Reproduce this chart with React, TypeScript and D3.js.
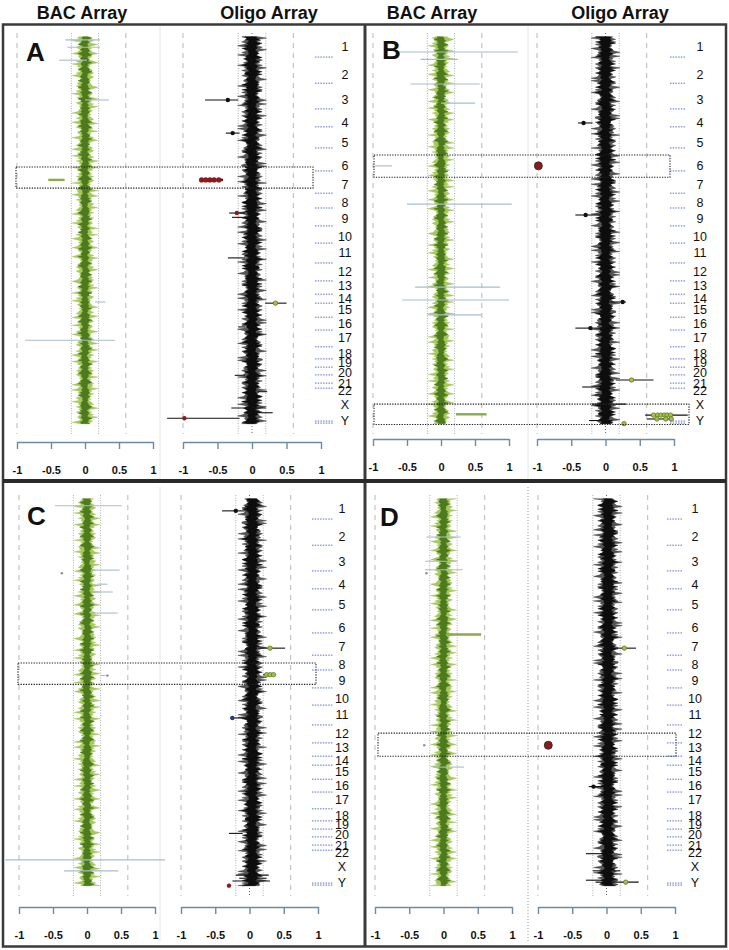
import React, { useEffect, useRef } from "react";
import * as d3 from "d3";

const W = 729;
const H = 950;
const FONT = "'Liberation Sans', Arial, Helvetica, sans-serif";

// ---------- data ----------
const HEADERS = ["BAC Array", "Oligo Array", "BAC Array", "Oligo Array"];
const PANEL_LETTERS = ["A", "B", "C", "D"];
const CHROMS = ["1", "2", "3", "4", "5", "6", "7", "8", "9", "10", "11", "12", "13", "14", "15", "16", "17", "18", "19", "20", "21", "22", "X", "Y"];
// label positions along genome (0-100 index units)
const CHROM_LABEL_POS = [2.6, 9.9, 16.2, 22.1, 27.4, 33.1, 38.2, 42.6, 46.9, 51.5, 55.6, 60.3, 64.1, 67.2, 70.0, 73.8, 77.4, 81.3, 83.8, 86.4, 89.0, 91.0, 94.4, 98.5];
// chromosome boundaries (dotted blue ticks)
const CHROM_BOUNDS = [5.4, 12.1, 18.7, 23.3, 28.7, 34.6, 40.3, 44.1, 48.7, 53.1, 58.2, 62.8, 66.2, 68.5, 72.1, 75.4, 79.7, 82.8, 84.9, 86.9, 89.0, 90.3];
const Y_BOUND = 99.0;
const AXIS_TICKS = [-1, -0.5, 0, 0.5, 1];
const GUIDE_DASHED = [-1, 0.6];
const GUIDE_DOTTED = [-0.2, 0.2];

// hand-read spread of the probe log2 ratios along the genome, coded 0-9
const BAC_NOISE = [
  "4729150386", "1579364028", "3957026184", "9612037485", "6183952740",
  "2861403579", "0438259716", "8205741693", "5046827931", "7394618250",
  "3957026184", "4729150386", "7394618250", "5046827931", "6183952740",
  "0438259716", "1579364028", "9612037485", "2861403579", "8205741693",
  "6183952740", "5046827931", "4729150386", "9612037485", "0438259716",
  "3957026184", "2861403579", "1579364028", "7394618250", "8205741693",
].join("");
const OLIGO_NOISE = [
  "5046827931", "6183952740", "7394618250", "8205741693", "0438259716",
  "4729150386", "2861403579", "3957026184", "9612037485", "1579364028",
  "8205741693", "7394618250", "4729150386", "0438259716", "5046827931",
  "3957026184", "9612037485", "6183952740", "1579364028", "2861403579",
  "7394618250", "3957026184", "0438259716", "5046827931", "8205741693",
  "9612037485", "4729150386", "2861403579", "6183952740", "1579364028",
].join("");
const BAC_AMP = [0.05, 0.06, 0.07, 0.078, 0.085, 0.092, 0.1, 0.112, 0.13, 0.19];
const OLIGO_AMP = [0.06, 0.07, 0.08, 0.088, 0.095, 0.102, 0.11, 0.125, 0.15, 0.21];
const NOISE_OFFSETS = [0, 37, 81, 123];
const OLIGO_CENTERS = [0.0, 0.0, 0.04, 0.02];

// outlier segments: u = genome index, lo/hi = log2 ratio, dots = points, dc = dot colour, s = line style
const A_BAC_MARKS = [
  { u: 1.0, lo: -0.29, hi: 0.22, s: "gray" },
  { u: 2.9, lo: -0.26, hi: 0.22, s: "gray" },
  { u: 6.2, lo: -0.38, hi: 0.03, s: "gray" },
  { u: 16.4, lo: 0.0, hi: 0.35, s: "gray" },
  { u: 36.9, lo: -0.54, hi: -0.3, s: "green" },
  { u: 68.2, lo: 0.15, hi: 0.3, s: "gray" },
  { u: 78.0, lo: -0.88, hi: 0.44, s: "gray" },
];
const A_OLIGO_MARKS = [
  { u: 16.4, lo: -0.68, hi: -0.2, dots: [-0.35], dc: "black", s: "black" },
  { u: 24.9, lo: -0.38, hi: -0.18, dots: [-0.28], dc: "black", s: "black" },
  { u: 36.9, lo: -0.76, hi: -0.42, dots: [-0.73, -0.67, -0.61, -0.55, -0.48], dc: "red", s: "darkred" },
  { u: 45.4, lo: -0.33, hi: -0.1, dots: [-0.22], dc: "red", s: "black" },
  { u: 46.5, lo: -0.29, hi: -0.1, s: "black" },
  { u: 56.9, lo: -0.35, hi: -0.1, s: "black" },
  { u: 68.5, lo: 0.19, hi: 0.5, dots: [0.34], dc: "green", s: "black" },
  { u: 74.6, lo: -0.2, hi: -0.1, s: "black" },
  { u: 87.0, lo: -0.25, hi: -0.1, s: "black" },
  { u: 91.2, lo: 0.08, hi: 0.22, s: "black" },
  { u: 95.4, lo: -0.3, hi: 0.2, s: "black" },
  { u: 96.6, lo: -0.12, hi: 0.3, s: "black" },
  { u: 98.0, lo: -1.23, hi: -0.18, dots: [-0.98], dc: "red", s: "black" },
];
const B_BAC_MARKS = [
  { u: 4.1, lo: -0.63, hi: 1.13, s: "gray" },
  { u: 6.0, lo: -0.3, hi: 0.25, s: "gray" },
  { u: 12.3, lo: -0.45, hi: 0.57, s: "gray" },
  { u: 17.2, lo: 0.0, hi: 0.5, s: "gray" },
  { u: 33.3, lo: -0.97, hi: -0.72, s: "gray" },
  { u: 43.1, lo: -0.5, hi: 1.04, s: "gray" },
  { u: 64.4, lo: -0.38, hi: 0.87, s: "gray" },
  { u: 67.7, lo: -0.57, hi: 1.0, s: "gray" },
  { u: 71.5, lo: -0.2, hi: 0.6, s: "gray" },
  { u: 97.0, lo: 0.22, hi: 0.67, s: "green" },
];
const B_OLIGO_MARKS = [
  { u: 22.3, lo: -0.4, hi: -0.19, dots: [-0.32], dc: "black", s: "black" },
  { u: 33.3, lo: -0.99, hi: -0.97, dots: [-0.98], dc: "bigred", s: "black" },
  { u: 45.9, lo: -0.44, hi: -0.04, dots: [-0.29], dc: "black", s: "black" },
  { u: 68.2, lo: 0.05, hi: 0.3, dots: [0.25], dc: "black", s: "black" },
  { u: 74.9, lo: -0.44, hi: 0.0, dots: [-0.22], dc: "black", s: "black" },
  { u: 88.2, lo: 0.15, hi: 0.7, dots: [0.38], dc: "green", s: "black" },
  { u: 90.0, lo: -0.34, hi: -0.1, s: "black" },
  { u: 92.0, lo: -0.15, hi: 0.05, s: "black" },
  { u: 94.4, lo: -0.2, hi: 0.3, s: "black" },
  { u: 97.2, lo: 0.58, hi: 1.2, dots: [0.7, 0.76, 0.81, 0.86, 0.9, 0.95], dc: "green", s: "black" },
  { u: 98.2, lo: 0.6, hi: 0.98, dots: [0.75, 0.88, 0.96], dc: "green", s: "black" },
  { u: 98.6, lo: -0.24, hi: 0.1, s: "black" },
  { u: 99.4, lo: 0.27, hi: 0.27, dots: [0.27], dc: "green", s: "black" },
];
const C_BAC_MARKS = [
  { u: 2.0, lo: -0.47, hi: 0.51, s: "gray" },
  { u: 18.5, lo: 0.09, hi: 0.48, s: "gray" },
  { u: 19.3, lo: -0.37, hi: -0.36, dots: [-0.37], dc: "gray", s: "gray" },
  { u: 22.1, lo: 0.15, hi: 0.3, s: "gray" },
  { u: 24.1, lo: 0.1, hi: 0.38, s: "gray" },
  { u: 29.5, lo: 0.05, hi: 0.45, s: "gray" },
  { u: 45.5, lo: 0.2, hi: 0.27, dots: [0.3], dc: "gray", s: "gray" },
  { u: 92.8, lo: -1.2, hi: 1.15, s: "gray" },
  { u: 95.6, lo: -0.34, hi: 0.46, s: "gray" },
];
const C_OLIGO_MARKS = [
  { u: 3.3, lo: -0.4, hi: -0.02, dots: [-0.2], dc: "black", s: "black" },
  { u: 38.5, lo: 0.13, hi: 0.52, dots: [0.3], dc: "green", s: "black" },
  { u: 45.3, lo: 0.2, hi: 0.38, dots: [0.25, 0.3, 0.35], dc: "green", s: "black" },
  { u: 56.4, lo: -0.28, hi: 0.0, dots: [-0.25], dc: "blue", s: "black" },
  { u: 86.0, lo: -0.3, hi: -0.1, s: "black" },
  { u: 96.7, lo: -0.2, hi: 0.28, s: "black" },
  { u: 97.5, lo: -0.15, hi: 0.25, s: "black" },
  { u: 98.2, lo: -0.25, hi: 0.3, s: "black" },
  { u: 99.4, lo: -0.3, hi: -0.3, dots: [-0.3], dc: "red", s: "black" },
];
const D_BAC_MARKS = [
  { u: 10.0, lo: -0.25, hi: 0.25, s: "gray" },
  { u: 16.2, lo: -0.27, hi: 0.2, s: "gray" },
  { u: 18.4, lo: -0.27, hi: 0.28, s: "gray" },
  { u: 19.3, lo: -0.25, hi: -0.24, dots: [-0.25], dc: "gray", s: "gray" },
  { u: 35.0, lo: 0.05, hi: 0.55, s: "green" },
  { u: 63.4, lo: -0.3, hi: -0.27, dots: [-0.28], dc: "gray", s: "gray" },
  { u: 69.0, lo: -0.15, hi: 0.3, s: "gray" },
];
const D_OLIGO_MARKS = [
  { u: 38.5, lo: 0.15, hi: 0.43, dots: [0.26], dc: "green", s: "black" },
  { u: 63.4, lo: -0.86, hi: -0.84, dots: [-0.85], dc: "bigred", s: "black" },
  { u: 55.5, lo: -0.1, hi: 0.15, s: "black" },
  { u: 74.0, lo: -0.26, hi: 0.0, dots: [-0.19], dc: "black", s: "black" },
  { u: 91.2, lo: -0.3, hi: 0.0, s: "black" },
  { u: 95.6, lo: -0.2, hi: 0.2, s: "black" },
  { u: 98.0, lo: -0.3, hi: 0.1, s: "black" },
  { u: 98.5, lo: -0.16, hi: 0.47, dots: [0.28], dc: "green", s: "black" },
];
const BAC_MARKS = [A_BAC_MARKS, B_BAC_MARKS, C_BAC_MARKS, D_BAC_MARKS];
const OLIGO_MARKS = [A_OLIGO_MARKS, B_OLIGO_MARKS, C_OLIGO_MARKS, D_OLIGO_MARKS];
// highlighted regions (genome index ranges)
const A_BOXES = [[33.6, 39.0]];
const B_BOXES = [[30.5, 36.2], [94.4, 99.6]];
const C_BOXES = [[42.3, 47.8]];
const D_BOXES = [[60.3, 66.2]];
const BOXES = [A_BOXES, B_BOXES, C_BOXES, D_BOXES];

// ---------- layout ----------
const PANELS = [
  { top: 36, bac: [17, 153], oligo: [183, 321], labelX: 345, tick: [315, 333], letter: [26, 61], boxX: [[16, 313]], axisY: 442, divider: 160, dividerDotted: false },
  { top: 36, bac: [373, 509], oligo: [537, 674], labelX: 700, tick: [670, 685], letter: [382, 59], boxX: [[374, 670], [374, 689]], axisY: 439, divider: 528, dividerDotted: false },
  { top: 498, bac: [19, 155], oligo: [181, 318], labelX: 342, tick: [312, 333], letter: [27, 525], boxX: [[18, 316]], axisY: 907, divider: 160, dividerDotted: false },
  { top: 498, bac: [375, 512], oligo: [538, 675], labelX: 695, tick: [667, 682], letter: [380, 526], boxX: [[378, 676]], axisY: 907, divider: 528, dividerDotted: true },
];
const HEADER_X = [82, 269, 432, 620];
const SPAN = 390;
const AXIS_COLOR = "#6d8aa3";

// jagged band: left edge from one reading of the spread, right edge from another
function bandPath(noise: string, amp: number[], offset: number, x: any, y: any, gain: number, center: number) {
  const n = noise.length;
  const idx = d3.range(n);
  const area = d3
    .area<number>()
    .y((i) => y(0.2 + (99.2 * i) / (n - 1)))
    .x0((i) => x(center - amp[+noise[(i + offset) % n]] * gain))
    .x1((i) => x(center + amp[+noise[(i + offset + 150) % n]] * gain));
  return area(idx) || "";
}

function Axis({ scale, y }: { scale: any; y: number }) {
  const ref = useRef<SVGGElement>(null);
  useEffect(() => {
    if (!ref.current) return;
    const g = d3.select(ref.current);
    g.call(
      d3
        .axisBottom(scale)
        .tickValues(AXIS_TICKS)
        .tickSize(7)
        .tickSizeOuter(0)
        .tickPadding(17)
        .tickFormat((d: any) => String(d)) as any
    );
    g.select(".domain").attr("stroke", AXIS_COLOR).attr("stroke-width", 1.4);
    g.selectAll(".tick line").attr("stroke", AXIS_COLOR).attr("stroke-width", 1.4);
    g.selectAll(".tick text")
      .attr("font-size", 11)
      .attr("font-weight", "bold")
      .attr("font-family", FONT)
      .attr("fill", "#111");
  }, [scale, y]);
  return <g ref={ref} transform={`translate(0,${y})`} />;
}

const LINE_COLORS: Record<string, string> = {
  gray: "#a8bccb",
  green: "#8aab4a",
  black: "#111",
  darkred: "#4a0e0e",
};
const DOT_FILL: Record<string, string> = {
  black: "#111",
  red: "#8e1b1b",
  bigred: "#8e1b1b",
  green: "#a6c04a",
  blue: "#2a3585",
  gray: "#8a93a8",
};

function Marks({ marks, x, y }: { marks: any[]; x: any; y: any }) {
  return (
    <g>
      {marks.map((m, i) => (
        <g key={i}>
          <line
            x1={x(m.lo)}
            x2={x(m.hi)}
            y1={y(m.u)}
            y2={y(m.u)}
            stroke={LINE_COLORS[m.s]}
            strokeWidth={m.s === "green" || m.s === "darkred" ? 2.4 : 1.1}
          />
          {(m.dots || []).map((v: number, j: number) => (
            <circle
              key={j}
              cx={x(v)}
              cy={y(m.u)}
              r={m.dc === "bigred" ? 4 : m.dc === "red" && m.dots.length > 1 ? 2.6 : m.dc === "gray" ? 1.3 : 2.2}
              fill={DOT_FILL[m.dc]}
              stroke={m.dc === "green" ? "#5d7a22" : m.dc === "bigred" ? "#222" : "none"}
              strokeWidth={0.8}
            />
          ))}
        </g>
      ))}
    </g>
  );
}

function Guides({ x, y0, y1, zero }: { x: any; y0: number; y1: number; zero: boolean }) {
  return (
    <g>
      {GUIDE_DASHED.map((v) => (
        <line key={"d" + v} x1={x(v)} x2={x(v)} y1={y0} y2={y1} stroke="#c4c4c4" strokeWidth={1.2} strokeDasharray="5,5" />
      ))}
      {GUIDE_DOTTED.map((v) => (
        <line key={"o" + v} x1={x(v)} x2={x(v)} y1={y0} y2={y1} stroke="#9a9a9a" strokeWidth={0.8} strokeDasharray="1,1.5" />
      ))}
      {zero && <line x1={x(0)} x2={x(0)} y1={y0} y2={y1} stroke="#444" strokeWidth={0.8} strokeDasharray="1,2" />}
    </g>
  );
}

function Panel({ idx }: { idx: number }) {
  const p = PANELS[idx];
  const y = d3.scaleLinear().domain([0, 100]).range([p.top, p.top + SPAN]);
  const xb = d3.scaleLinear().domain([-1, 1]).range(p.bac as [number, number]);
  const xo = d3.scaleLinear().domain([-1, 1]).range(p.oligo as [number, number]);
  const gy0 = y(0) - 3;
  const gy1 = y(100) + 8;
  const off = NOISE_OFFSETS[idx];
  const oc = OLIGO_CENTERS[idx];
  return (
    <g>
      {/* BAC / Oligo divider */}
      <line
        x1={p.divider}
        x2={p.divider}
        y1={p.top - 11}
        y2={p.top + 444}
        stroke={p.dividerDotted ? "#999" : "#e6e6e6"}
        strokeWidth={1}
        strokeDasharray={p.dividerDotted ? "1,2" : undefined}
      />
      <Guides x={xb} y0={gy0} y1={gy1} zero={false} />
      <Guides x={xo} y0={gy0} y1={gy1} zero={true} />

      {/* BAC trace */}
      <path d={bandPath(BAC_NOISE, BAC_AMP, off, xb, y, 1.0, 0)} fill="#a5c75e" stroke="#a5c75e" strokeWidth={0.4} />
      <path d={bandPath(BAC_NOISE, BAC_AMP, off + 53, xb, y, 0.55, 0)} fill="#4c7a1c" stroke="#4c7a1c" strokeWidth={0.4} />
      <Marks marks={BAC_MARKS[idx]} x={xb} y={y} />

      {/* Oligo trace */}
      <path d={bandPath(OLIGO_NOISE, OLIGO_AMP, off, xo, y, 1.0, oc)} fill="#555" stroke="#333" strokeWidth={0.4} />
      <path d={bandPath(OLIGO_NOISE, OLIGO_AMP, off + 71, xo, y, 0.7, oc)} fill="#0d0d0d" stroke="#0d0d0d" strokeWidth={0.4} />
      <Marks marks={OLIGO_MARKS[idx]} x={xo} y={y} />

      {/* highlight boxes */}
      {BOXES[idx].map((b, i) => (
        <rect
          key={i}
          x={p.boxX[i][0]}
          y={y(b[0])}
          width={p.boxX[i][1] - p.boxX[i][0]}
          height={y(b[1]) - y(b[0])}
          fill="none"
          stroke="#222"
          strokeWidth={1.1}
          strokeDasharray="1.3,1.3"
        />
      ))}

      {/* chromosome boundaries and labels */}
      {CHROM_BOUNDS.map((u, i) => (
        <line key={"b" + i} x1={p.tick[0]} x2={p.tick[1]} y1={y(u)} y2={y(u)} stroke="#5a6fd6" strokeWidth={1} strokeDasharray="1.5,1.2" />
      ))}
      {[0, 2].map((dy) => (
        <line key={"yb" + dy} x1={p.tick[0]} x2={p.tick[1]} y1={y(Y_BOUND) - 1 + dy} y2={y(Y_BOUND) - 1 + dy} stroke="#5a6fd6" strokeWidth={1} strokeDasharray="1.5,1.2" />
      ))}
      {CHROMS.map((c, i) => (
        <text key={c} x={p.labelX} y={y(CHROM_LABEL_POS[i])} dy="0.36em" textAnchor="middle" fontSize={12.5} fontFamily={FONT} fill="#111">
          {c}
        </text>
      ))}

      {/* panel letter */}
      <text x={p.letter[0]} y={p.letter[1]} fontSize={26} fontWeight="bold" fontFamily={FONT} fill="#111">
        {PANEL_LETTERS[idx]}
      </text>

      <Axis scale={xb} y={p.axisY} />
      <Axis scale={xo} y={p.axisY} />
    </g>
  );
}

export default function App() {
  return (
    <svg width={W} height={H} style={{ position: "absolute", left: 0, top: 0, background: "#fff" }} xmlns="http://www.w3.org/2000/svg">
      <rect x={0} y={0} width={W} height={H} fill="#fff" />
      {HEADERS.map((h, i) => (
        <text key={i} x={HEADER_X[i]} y={19} textAnchor="middle" fontSize={18} fontWeight="bold" fontFamily={FONT} fill="#111">
          {h}
        </text>
      ))}
      {[0, 1, 2, 3].map((i) => (
        <Panel key={i} idx={i} />
      ))}
      {/* frame */}
      <rect x={3} y={24.5} width={723} height={922} fill="none" stroke="#3a3a3a" strokeWidth={2.5} />
      <line x1={365} x2={365} y1={24} y2={947} stroke="#3a3a3a" strokeWidth={3} />
      <line x1={3} x2={726} y1={481} y2={481} stroke="#2a2a2a" strokeWidth={4} />
    </svg>
  );
}
